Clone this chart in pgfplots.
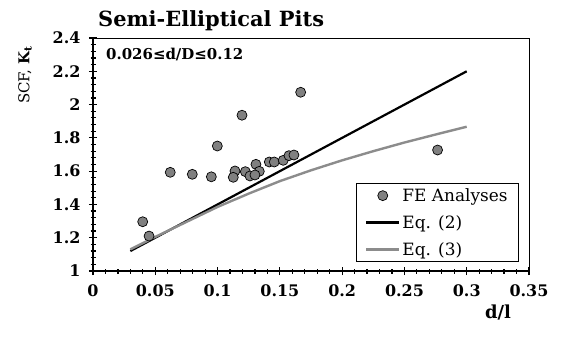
\documentclass[border=0pt]{standalone}
\usepackage{fontspec}
\setmainfont{DejaVu Serif}
\usepackage{pgfplots}
\pgfplotsset{compat=1.18}
\definecolor{ptgray}{RGB}{128,128,128}
\definecolor{lngray}{RGB}{140,140,140}
\begin{document}
\begin{tikzpicture}[x=1bp,y=1bp]
\useasboundingbox (-93,-67) rectangle (468,271);
\begin{axis}[
  at={(0,0)}, anchor=south west,
  width=436bp, height=233bp, scale only axis,
  xmin=0, xmax=0.35, ymin=1, ymax=2.4,
  xtick={0,0.05,0.1,0.15,0.2,0.25,0.3,0.35},
  xticklabels={0,0.05,0.1,0.15,0.2,0.25,0.3,0.35},
  ytick={1,1.2,1.4,1.6,1.8,2,2.2,2.4},
  yticklabels={1,1.2,1.4,1.6,1.8,2,2.2,2.4},
  minor x tick num=4, minor y tick num=4,
  tick pos=left, tick align=center,
  major tick length=8bp, minor tick length=5bp,
  every tick/.style={black, line width=1.2bp},
  axis line style={line width=0.8bp},
  /pgf/number format/assume math mode=true,
  tick label style={font=\fontsize{16}{16}\selectfont\bfseries},
  xticklabel style={yshift=-6bp},
  yticklabel style={xshift=-5bp},
  legend style={at={(rel axis cs:0.977,0.039)}, anchor=south east,
    draw=black, line width=0.8bp, font=\fontsize{17}{20}\selectfont,
    row sep=8.5bp, inner xsep=9bp, inner ysep=3bp},
  legend image code/.code={\draw[mark repeat=2,mark phase=2,#1] plot coordinates {(0bp,0bp) (16.5bp,0bp) (33bp,0bp)};},
  legend cell align=left,
  clip=false,
]
\addplot[only marks, mark=*, mark size=5bp, mark options={fill=ptgray, draw=black, line width=0.7bp}]
  coordinates {
  (0.0399,1.296) (0.045,1.21) (0.062,1.593) (0.0797,1.581) (0.095,1.566)
  (0.0998,1.751) (0.1196,1.936) (0.114,1.601) (0.1126,1.563) (0.1223,1.597)
  (0.126,1.571) (0.1308,1.641) (0.1335,1.599) (0.130,1.577) (0.1415,1.655)
  (0.1455,1.655) (0.1527,1.665) (0.1573,1.693) (0.1613,1.697) (0.1667,2.074)
  (0.2766,1.727)
  };
\addlegendentry{FE Analyses}
\addplot[black, line width=2.2bp]
  coordinates {(0.03,1.12) (0.3,2.2)};
\addlegendentry{Eq. (2)}
\addplot[lngray, line width=2.4bp]
  coordinates {
  (0.03,1.13) (0.05,1.205) (0.075,1.295) (0.1,1.385) (0.125,1.465)
  (0.15,1.54) (0.175,1.605) (0.2,1.665) (0.225,1.72) (0.25,1.772)
  (0.275,1.82) (0.3,1.867)
  };
\addlegendentry{Eq. (3)}
\draw[black, line width=1.8bp] (rel axis cs:0,1) -- (rel axis cs:0,0) -- (rel axis cs:1,0);
\end{axis}
\node[anchor=base west, font=\fontsize{21}{21}\selectfont\bfseries, inner sep=0pt] at (5,245) {Semi-Elliptical Pits};
\node[anchor=base west, font=\fontsize{15}{15}\selectfont\bfseries, inner sep=0pt] at (13,212) {0.026≤d/D≤0.12};
\node[rotate=90, font=\fontsize{15}{15}\selectfont] at (-68,196) {SCF, \textbf{K\textsubscript{t}}};
\node[font=\fontsize{18}{18}\selectfont\bfseries] at (405,-42) {d/l};
\end{tikzpicture}
\end{document}
